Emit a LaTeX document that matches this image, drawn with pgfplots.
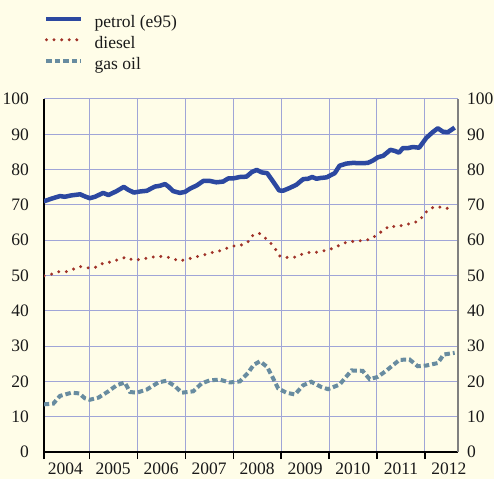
\documentclass[border=0pt]{standalone}
\usepackage{fontspec}
\setmainfont{Liberation Serif}
\usepackage{pgfplots}
\pgfplotsset{compat=1.18}
\usepackage{pgfplotstable}
\definecolor{bg}{RGB}{255,253,232}
\definecolor{petrol}{RGB}{44,72,160}
\definecolor{diesel}{RGB}{160,50,40}
\definecolor{gasoil}{RGB}{104,140,160}
\definecolor{gridc}{RGB}{160,165,215}
\definecolor{txt}{RGB}{25,25,25}

\pgfplotstableread{
t v
2004.05 71.0
2004.22 71.8
2004.39 72.5
2004.49 72.3
2004.63 72.7
2004.81 73.0
2004.91 72.4
2005.01 71.9
2005.12 72.3
2005.29 73.4
2005.40 72.8
2005.57 73.9
2005.72 75.1
2005.81 74.3
2005.93 73.5
2006.06 73.8
2006.20 74.0
2006.37 75.2
2006.47 75.4
2006.58 75.9
2006.65 75.2
2006.75 73.9
2006.89 73.4
2007.00 73.7
2007.10 74.6
2007.24 75.5
2007.38 76.8
2007.51 76.8
2007.65 76.4
2007.79 76.6
2007.90 77.5
2008.00 77.5
2008.14 77.9
2008.28 78.0
2008.39 79.3
2008.49 79.9
2008.60 79.2
2008.71 79.0
2008.84 76.5
2008.96 74.1
2009.04 74.0
2009.18 74.8
2009.32 75.7
2009.46 77.3
2009.56 77.4
2009.65 77.9
2009.74 77.4
2009.81 77.6
2009.95 77.8
2010.12 79.0
2010.22 81.1
2010.36 81.7
2010.50 81.9
2010.67 81.8
2010.81 81.9
2010.92 82.6
2011.02 83.5
2011.13 83.9
2011.28 85.6
2011.37 85.3
2011.46 84.8
2011.54 86.1
2011.65 86.1
2011.75 86.4
2011.88 86.2
2012.03 89.0
2012.17 90.7
2012.27 91.7
2012.38 90.7
2012.48 90.6
2012.62 91.9
}\petroltab

\pgfplotstableread{
t v
2004.06 49.9
2004.22 50.4
2004.37 51.1
2004.53 51.1
2004.69 51.9
2004.84 52.6
2005.00 52.1
2005.16 52.4
2005.31 53.7
2005.46 53.8
2005.62 54.6
2005.77 55.2
2005.92 54.3
2006.08 54.6
2006.24 55.0
2006.40 55.4
2006.56 55.4
2006.72 54.9
2006.88 54.1
2007.04 54.6
2007.20 55.2
2007.36 55.7
2007.53 56.4
2007.68 56.8
2007.84 57.6
2007.99 58.3
2008.14 58.5
2008.30 59.3
2008.39 61.2
2008.54 62.0
2008.67 60.6
2008.79 59.1
2008.89 57.3
2008.98 55.4
2009.14 55.1
2009.30 55.2
2009.45 56.1
2009.61 56.6
2009.76 56.6
2009.92 57.1
2010.06 57.6
2010.21 58.5
2010.36 59.4
2010.52 59.7
2010.69 59.9
2010.85 60.2
2011.00 61.5
2011.13 62.8
2011.27 64.1
2011.42 63.7
2011.58 64.5
2011.73 64.7
2011.89 65.6
2011.99 67.5
2012.11 69.0
2012.26 69.6
2012.42 68.9
2012.58 69.4
}\dieseltab

\pgfplotstableread{
t v
2004.05 13.5
2004.25 13.7
2004.39 15.9
2004.63 16.8
2004.79 16.6
2004.91 15.2
2005.01 14.8
2005.19 15.4
2005.40 17.2
2005.57 18.9
2005.74 19.7
2005.85 17.0
2005.99 16.8
2006.20 17.7
2006.44 19.7
2006.61 20.2
2006.79 18.6
2006.93 16.8
2007.17 17.2
2007.34 19.4
2007.51 20.3
2007.72 20.5
2007.93 19.7
2008.14 20.0
2008.31 22.4
2008.43 24.7
2008.56 25.7
2008.71 24.1
2008.83 21.0
2008.94 18.0
2009.11 16.8
2009.29 16.3
2009.46 18.9
2009.63 19.9
2009.84 18.4
2009.98 17.8
2010.22 19.1
2010.47 23.1
2010.70 23.0
2010.85 20.6
2011.02 21.3
2011.20 23.1
2011.47 26.1
2011.68 26.2
2011.85 24.3
2012.03 24.5
2012.27 25.2
2012.39 27.6
2012.62 28.1
}\gasoiltab

\begin{document}
\fontsize{17.5}{20}\selectfont
\color{txt}
\begin{tikzpicture}[x=1pt,y=1pt]
\fill[bg] (0,0) rectangle (494,479);
\useasboundingbox (0,0) rectangle (494,479);
\begin{axis}[
  at={(44pt,27pt)}, anchor=south west,
  scale only axis, width=414pt, height=353pt,
  xmin=2004.056, xmax=2012.69, ymin=0, ymax=100,
  axis x line*=bottom, axis y line*=left,
  axis line style={black, line width=1.3pt},
  /pgf/number format/assume math mode=true,
  xtick={2004.056,2005,2006,2007,2008,2009,2010,2011,2012},
  xticklabels={},
  xmajorgrids, ymajorgrids,
  grid style={gridc, line width=1pt},
  x tick style={black, line width=1.2pt},
  tick align=outside,
  major tick length=7pt,
  y tick style={draw=none},
  ytick={0,10,...,100},
  yticklabel style={anchor=east, inner sep=0pt, xshift=-8pt},
  extra x ticks={2004.5,2005.5,2006.5,2007.5,2008.5,2009.5,2010.5,2011.5,2012.5},
  extra x tick labels={2004,2005,2006,2007,2008,2009,2010,2011,2012},
  extra x tick style={grid=none, major tick length=0pt,
     tick label style={anchor=north, inner sep=0pt, yshift=-11pt}},
  legend style={at={(0,1)}, anchor=south west, yshift=25pt, draw=none, fill=none,
     inner sep=0pt, row sep=4pt, column sep=11pt,
     nodes={inner sep=0pt, text height=13pt, text depth=4pt}},
  legend cell align=left,
  legend image code/.code={\draw[#1] (0pt,4.5pt) -- (35pt,4.5pt);},
]
\addplot[petrol, line width=4.5pt, line join=round] table[x=t,y=v] {\petroltab};
\addlegendentry{petrol (e95)}
\addplot[diesel, line width=3.3pt, line cap=round, dash pattern=on 0pt off 7.6pt] table[x=t,y=v] {\dieseltab};
\addlegendentry{diesel}
\addplot[gasoil, line width=4pt, dash pattern=on 5.5pt off 3pt] table[x=t,y=v] {\gasoiltab};
\addlegendentry{gas oil}
\end{axis}
\begin{axis}[
  at={(44pt,27pt)}, anchor=south west,
  scale only axis, width=414pt, height=353pt,
  xmin=2004.056, xmax=2012.69, ymin=0, ymax=100,
  axis x line=none, axis y line*=right,
  axis line style={gray, line width=1.2pt},
  /pgf/number format/assume math mode=true,
  ytick={0,10,...,100},
  y tick style={draw=none},
  yticklabel style={anchor=west, inner sep=0pt, xshift=9pt},
]
\end{axis}
\end{tikzpicture}
\end{document}
